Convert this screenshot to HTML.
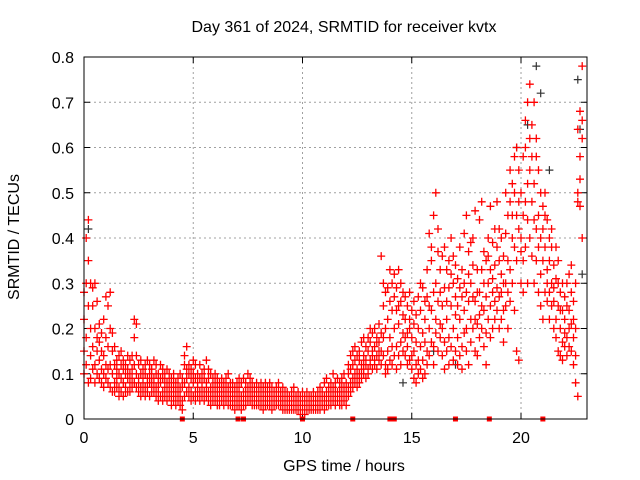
<!DOCTYPE html>
<html><head><meta charset="utf-8"><style>
body{margin:0;background:#fff}
svg{display:block;font-family:"Liberation Sans",sans-serif}
</style></head><body>
<svg id="chart" width="640" height="480" viewBox="0 0 640 480" xmlns="http://www.w3.org/2000/svg">
<rect width="640" height="480" fill="#fff"/>
<text x="344" y="32" font-size="16" text-anchor="middle">Day 361 of 2024, SRMTID for receiver kvtx</text>
<text x="19" y="237" font-size="16" text-anchor="middle" transform="rotate(-90 19 237)">SRMTID / TECUs</text>
<text x="344" y="471" font-size="16" text-anchor="middle">GPS time / hours</text>
<g id="grid"></g><g id="ticks"></g>
<path id="black" fill="none" stroke="#333" stroke-width="1.2"/>
<path id="red" fill="none" stroke="#f00" stroke-width="1.3"/>
<g id="marks"></g>
<rect x="84" y="57" width="503" height="362" fill="none" stroke="#000" stroke-width="1"/>
</svg>
<script>
const xTicks=[0,5,10,15,20];
const yTicks=[0,0.1,0.2,0.3,0.4,0.5,0.6,0.7,0.8];
const yTickLabels=["0","0.1","0.2","0.3","0.4","0.5","0.6","0.7","0.8"];
const gapTimes=[4.5,7.05,7.3,10.0,12.3,14.0,14.2,17.0,18.55,21.0];
const blackPoints=[[0.2,0.42],[14.6,0.08],[16.0,0.15],[17,0.12],[19.8,0.6],[20.3,0.65],[20.7,0.78],[20.9,0.72],[21.3,0.55],[22.6,0.75],[22.7,0.64],[22.8,0.32]];
// rows: [time*10, values in 0.01 TECU]
const redRows=[
[0,15,22,28,10],[1,18,30,40,12],[2,25,44,35,8],[3,20,30,14,9],[4,16,25,11,29],[5,12,20,30,8],[6,26,18,10,15],[7,13,21,9,17],[8,19,11,15,8],[9,14,10,22,7],
[10,12,18,27,9],[11,25,16,8,11],[12,20,12,7,28],[13,10,15,6,19],[14,8,12,16,6],[15,13,9,11,7],[16,7,10,14,5],[17,12,6,9,15],[18,8,11,5,13],[19,10,7,12,6],
[20,9,14,6,11],[21,6,10,8,13],[22,11,7,9,14],[23,18,22,8,12],[24,14,21,7,10],[25,9,12,6,8],[26,7,10,13,5],[27,8,11,6,9],[28,12,7,10,5],[29,6,9,13,8],
[30,8,12,5,10],[31,11,7,9,6],[32,9,13,6,8],[33,7,10,5,12],[34,10,6,8,4],[35,12,8,5,9],[36,6,9,11,4],[37,8,5,10,7],[38,11,6,4,8],[39,7,9,5,10],
[40,9,5,7,3],[41,6,8,4,10],[42,8,5,7,3],[43,4,7,9,6],[44,10,5,3,7],[45,7,4,9,2],[46,12,8,5,14],[47,9,16,6,11],[48,7,12,10,5],[49,9,6,11,4],
[50,8,13,5,10],[51,6,9,4,12],[52,10,7,5,8],[53,12,6,9,4],[54,7,10,5,8],[55,9,6,11,4],[56,8,13,5,7],[57,11,6,9,4],[58,7,10,5,3],[59,9,5,7,4],
[60,6,8,4,10],[61,5,7,3,9],[62,8,4,6,3],[63,6,9,4,7],[64,5,8,3,6],[65,9,5,7,4],[66,7,10,5,3],[67,6,4,8,3],[68,8,5,3,6],[69,5,7,4,2],
[70,4,6,3,8],[71,7,3,5,9],[72,5,8,4,2],[73,9,6,3,5],[74,6,4,8,3],[75,10,5,7,4],[76,7,9,4,6],[77,5,8,3,6],[78,6,4,7,3],[79,8,5,3,6],
[80,4,7,5,3],[81,6,3,8,5],[82,5,7,4,2],[83,3,6,8,5],[84,7,4,5,3],[85,5,8,3,6],[86,4,6,2,7],[87,6,3,5,4],[88,5,7,3,4],[89,3,6,4,8],
[90,5,4,3,6],[91,4,7,2,5],[92,3,5,6,2],[93,6,3,4,2],[94,4,5,2,3],[95,3,6,4,2],[96,5,2,4,7],[97,3,4,2,5],[98,4,2,6,3],[99,2,5,3,1],
[100,3,4,2,6],[101,5,2,3,1],[102,2,4,6,3],[103,4,3,2,5],[104,3,5,2,4],[105,6,3,4,2],[106,4,2,5,3],[107,3,6,2,4],[108,5,3,7,2],[109,4,6,3,5],
[110,3,5,8,2],[111,6,4,3,9],[112,4,7,5,3],[113,5,3,6,8],[114,7,4,5,10],[115,4,8,6,3],[116,6,5,9,4],[117,8,4,6,3],[118,5,9,3,7],[119,7,5,10,4],
[120,6,8,3,5],[121,10,7,12,5],[122,8,14,11,6],[123,12,9,15,7],[124,10,13,8,16],[125,11,9,14,7],[126,13,10,8,15],[127,9,12,17,11],[128,14,10,12,18],[129,12,16,9,13],
[130,15,11,18,10],[131,13,17,12,20],[132,11,15,19,14],[133,16,12,20,13],[134,14,18,11,17],[135,17,13,21,15],[136,15,19,12,36],[137,18,14,25,30],[138,12,20,28,10],[139,22,15,29,11],
[140,18,26,13,33],[141,24,16,30,12],[142,20,27,14,32],[143,16,24,29,11],[144,21,14,33,25],[145,17,26,12,30],[146,23,15,28,19],[147,14,22,18,27],[148,19,25,12,16],[149,22,13,20,28],
[150,11,18,24,14],[151,15,9,21,26],[152,12,17,8,23],[153,20,13,27,10],[154,16,24,11,30],[155,13,19,29,9],[156,17,10,22,26],[157,12,27,33,15],[158,20,41,14,25],[159,24,35,17,38],
[160,16,28,45,12],[161,30,22,50,19],[162,26,37,15,42],[163,21,33,18,28],[164,14,25,36,20],[165,29,17,38,11],[166,22,33,15,26],[167,18,35,12,29],[168,25,40,16,32],[169,20,30,13,36],
[170,27,34,15,23],[171,18,31,12,25],[172,22,38,14,29],[173,16,27,11,33],[174,24,41,19,30],[175,20,45,28,15],[176,26,37,12,32],[177,30,22,39,17],[178,34,20,27,40],[179,26,46,22,15],
[180,21,33,28,14],[181,28,44,23,18],[182,33,25,48,20],[183,24,37,16,30],[184,19,27,35,12],[185,30,40,22,36],[186,25,47,33,18],[187,28,39,20,31],[188,34,26,42,22],[189,38,29,48,24],
[190,27,35,42,20],[191,32,22,40,28],[192,24,36,17,30],[193,41,30,50,25],[194,35,45,20,28],[195,48,33,55,26],[196,40,52,30,45],[197,50,38,58,24],[198,45,60,35,15],[199,55,42,48,13],
[200,37,50,30,40],[201,45,58,28,35],[202,60,48,66,38],[203,52,70,44,30],[204,62,55,74,40],[205,48,65,58,36],[206,70,52,44,30],[207,58,42,62,35],[208,45,55,38,28],[209,50,40,32,25],
[210,42,35,47,22],[211,38,50,28,45],[212,33,44,26,30],[213,40,28,35,22],[214,30,38,25,42],[215,26,34,20,29],[216,31,22,38,18],[217,25,30,15,35],[218,20,28,14,24],[219,17,24,30,13],
[220,22,16,27,19],[221,18,25,14,30],[222,24,20,32,16],[223,15,28,21,34],[224,26,18,12,22],[225,20,14,30,8],[226,50,64,5,48],[227,58,68,47,53],[228,62,78,66,40]
];
const X0=84,X1=587,Y0=419,Y1=57,XMAX=23.02,YMAX=0.8;
const xs=t=>X0+(X1-X0)*t/XMAX;
const ys=v=>Y0-(Y0-Y1)*v/YMAX;
const NS='http://www.w3.org/2000/svg';
function mk(tag,attrs,parent){const e=document.createElementNS(NS,tag);for(const k in attrs)e.setAttribute(k,attrs[k]);parent.appendChild(e);return e;}
const grid=document.getElementById('grid'),ticks=document.getElementById('ticks');
yTicks.forEach((v,i)=>{const y=ys(v);
 if(i>0&&i<yTicks.length-1){const g=mk('line',{x1:X0,x2:X1,y1:y,y2:y,stroke:'#a0a0a0','stroke-dasharray':'2,3'},grid);
 
 }
 mk('line',{x1:X0,x2:X0+6,y1:y,y2:y,stroke:'#000'},ticks);
 mk('line',{x1:X1,x2:X1-6,y1:y,y2:y,stroke:'#000'},ticks);
 const t=mk('text',{x:X0-10,y:y+6,'font-size':16,'text-anchor':'end'},ticks);t.textContent=yTickLabels[i];
 
 
});
xTicks.forEach(v=>{const x=xs(v);
 if(v>0){const g=mk('line',{x1:x,x2:x,y1:Y0,y2:Y1,stroke:'#a0a0a0','stroke-dasharray':'2,3'},grid);
 
 }
 mk('line',{x1:x,x2:x,y1:Y0,y2:Y0-6,stroke:'#000'},ticks);
 mk('line',{x1:x,x2:x,y1:Y1,y2:Y1+6,stroke:'#000'},ticks);
 const t=mk('text',{x:x,y:Y0+24,'font-size':16,'text-anchor':'middle'},ticks);t.textContent=String(v);
 
 
});
function cross(x,y){return `M${(x-4).toFixed(1)} ${y.toFixed(1)}h8M${x.toFixed(1)} ${(y-4).toFixed(1)}v8`;}
let rd='';redRows.forEach(r=>{const t=r[0]/10;for(let j=1;j<r.length;j++)rd+=cross(xs(t),ys(r[j]/100));});
document.getElementById('red').setAttribute('d',rd);
let bd='';blackPoints.forEach(p=>{bd+=cross(xs(p[0]),ys(p[1]));});
document.getElementById('black').setAttribute('d',bd);
const marks=document.getElementById('marks');
gapTimes.forEach(t=>{const r=mk('rect',{x:xs(t)-2.5,y:Y0-2.5,width:5,height:5,fill:'#f00'},marks);
 
 });
</script>
</body></html>
